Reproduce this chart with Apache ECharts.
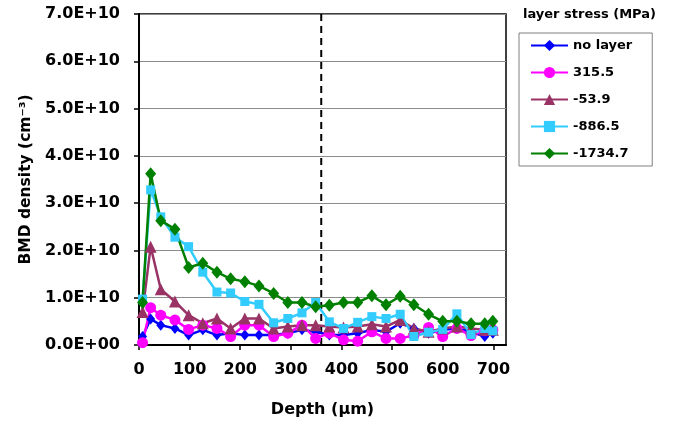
<!DOCTYPE html>
<html>
<head>
<meta charset="utf-8">
<script src="https://cdn.jsdelivr.net/npm/echarts@6/dist/echarts.min.js"></script>
<style>
  html, body { margin: 0; padding: 0; background: #fff; }
  #chart { width: 674px; height: 424px; }
</style>
</head>
<body>
<div id="chart"></div>
<script>
// Sampling depths (µm), shared by every stress series
const depths = [7, 23, 43, 71, 98, 126, 154, 181, 209, 237, 266, 294, 322, 349, 376,
                404, 432, 460, 488, 516, 543, 572, 600, 628, 656, 683, 699];

// BMD density in units of 1e10 cm^-3
const UNIT = 1e10;
const noLayer = [0.18, 0.55, 0.42, 0.35, 0.21, 0.32, 0.21, 0.25, 0.21, 0.21, 0.21, 0.25, 0.32, 0.28, 0.21,
                 0.21, 0.25, 0.32, 0.28, 0.46, 0.35, 0.25, 0.32, 0.35, 0.28, 0.18, 0.25];
const s315 = [0.05, 0.79, 0.63, 0.53, 0.33, 0.42, 0.35, 0.18, 0.42, 0.42, 0.18, 0.25, 0.42, 0.14, 0.25,
              0.11, 0.08, 0.28, 0.14, 0.14, 0.20, 0.37, 0.18, 0.35, 0.20, 0.30, 0.32];
const sM53 = [0.70, 2.08, 1.18, 0.92, 0.63, 0.46, 0.56, 0.35, 0.56, 0.56, 0.35, 0.39, 0.42, 0.42, 0.39,
              0.37, 0.39, 0.44, 0.39, 0.53, 0.35, 0.28, 0.35, 0.39, 0.35, 0.32, 0.32];
const sM886 = [0.97, 3.28, 2.71, 2.28, 2.08, 1.54, 1.12, 1.10, 0.92, 0.86, 0.47, 0.56, 0.68, 0.90, 0.49,
               0.35, 0.48, 0.60, 0.56, 0.65, 0.18, 0.27, 0.33, 0.66, 0.22, 0.35, 0.30];
const sM1734 = [0.90, 3.62, 2.63, 2.45, 1.64, 1.73, 1.54, 1.40, 1.34, 1.25, 1.09, 0.90, 0.90, 0.81, 0.84,
                0.90, 0.90, 1.04, 0.85, 1.03, 0.85, 0.65, 0.50, 0.50, 0.45, 0.45, 0.50];

const seriesNames = ['no layer', '315.5', '-53.9', '-886.5', '-1734.7'];
const seriesValues = [noLayer, s315, sM53, sM886, sM1734];
const seriesColors = ['#0000ff', '#ff00ff', '#993366', '#33ccff', '#008000'];
const seriesSymbols = ['diamond', 'circle', 'triangle', 'rect', 'diamond'];
const symbolSizes = [[9, 11], 11, 12, 9, [11, 13]];

// Depth of the layer boundary (dashed marker)
const boundaryDepth = 360;

const FONT = 'DejaVu Sans';

function sci(v) {
  const s = Number(v).toExponential(1).toUpperCase(); // e.g. 7.0E+10
  return s.replace(/E([+-])(\d)$/, 'E$10$2');
}

// Only label the round hundreds on the depth axis
function depthLabel(v) {
  return v % 100 === 0 ? String(v) : '';
}

const series = seriesNames.map((name, k) => ({
  name: name,
  type: 'line',
  data: depths.map((d, i) => [d, seriesValues[k][i] * UNIT]),
  symbol: seriesSymbols[k],
  symbolSize: symbolSizes[k],
  showAllSymbol: true,
  lineStyle: { color: seriesColors[k], width: 2.5 },
  itemStyle: { color: seriesColors[k], borderWidth: 0 },
  emphasis: { disabled: true },
  animation: false
}));

series.push({
  name: 'boundary',
  type: 'line',
  data: [[boundaryDepth, 0], [boundaryDepth, 7 * UNIT]],
  symbol: 'none',
  lineStyle: { color: '#000', width: 2, type: [7, 5] },
  silent: true,
  animation: false,
  z: 1
});

const chart = echarts.init(document.getElementById('chart'), null, { renderer: 'canvas' });
chart.setOption({
  backgroundColor: '#fff',
  animation: false,
  grid: {
    left: 139, right: 168, top: 14, bottom: 79,
    show: true, borderColor: '#000', borderWidth: 1.5, backgroundColor: 'transparent'
  },
  xAxis: {
    type: 'value', min: 0, max: 725, interval: 100,
    name: 'Depth (µm)', nameLocation: 'middle', nameGap: 57,
    nameTextStyle: { fontFamily: FONT, fontWeight: 'bold', fontSize: 16, color: '#000' },
    axisLine: { show: true, onZero: false, lineStyle: { color: '#000', width: 2 } },
    axisTick: { show: true, inside: false, length: 5, lineStyle: { color: '#000', width: 1.5 } },
    axisLabel: { fontFamily: FONT, fontWeight: 'bold', fontSize: 16, color: '#000', margin: 17,
                 showMaxLabel: false, formatter: depthLabel },
    splitLine: { show: false }
  },
  yAxis: {
    type: 'value', min: 0, max: 7 * UNIT, interval: UNIT,
    name: 'BMD density (cm⁻³)', nameLocation: 'middle', nameGap: 97, nameRotate: 90,
    nameTextStyle: { fontFamily: FONT, fontWeight: 'bold', fontSize: 15.5, color: '#000' },
    axisLine: { show: true, lineStyle: { color: '#000', width: 2 } },
    axisTick: { show: true, inside: false, length: 5, lineStyle: { color: '#000', width: 1.5 } },
    axisLabel: { fontFamily: FONT, fontWeight: 'bold', fontSize: 16, color: '#000', margin: 19, formatter: sci },
    splitLine: { show: true, lineStyle: { color: '#8c8c8c', width: 1 } }
  },
  legend: {
    data: seriesNames,
    orient: 'vertical',
    left: 519, top: 33,
    padding: [6, 20, 6, 11],
    itemWidth: 37, itemHeight: 14, itemGap: 14,
    borderColor: '#808080', borderWidth: 1,
    backgroundColor: '#fff',
    textStyle: { fontFamily: FONT, fontWeight: 'bold', fontSize: 13, color: '#000' },
    selectedMode: false
  },
  graphic: [{
    type: 'text',
    left: 523, top: 8,
    style: { text: 'layer stress (MPa)', fontFamily: FONT, fontWeight: 'bold', fontSize: 13, fill: '#000' }
  }],
  series: series
});
</script>
</body>
</html>
